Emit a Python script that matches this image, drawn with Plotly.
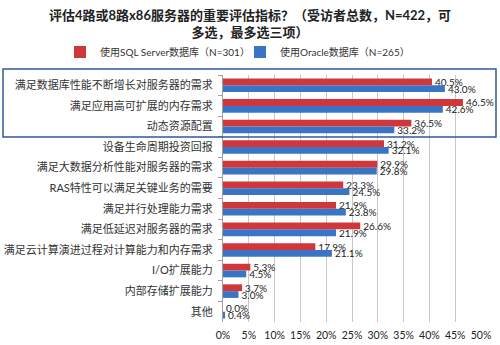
import plotly.graph_objects as go

categories = [
    "满足数据库性能不断增长对服务器的需求",
    "满足应用高可扩展的内存需求",
    "动态资源配置",
    "设备生命周期投资回报",
    "满足大数据分析性能对服务器的需求",
    "RAS特性可以满足关键业务的需要",
    "满足并行处理能力需求",
    "满足低延迟对服务器的需求",
    "满足云计算演进过程对计算能力和内存需求",
    "I/O扩展能力",
    "内部存储扩展能力",
    "其他",
]
sql_server = [40.5, 46.5, 36.5, 31.2, 29.9, 23.3, 21.9, 26.6, 17.9, 5.3, 3.7, 0.0]
oracle = [43.0, 42.6, 33.2, 32.1, 29.8, 24.5, 23.8, 21.9, 21.1, 4.5, 3.0, 0.4]
series_names = ["使用SQL Server数据库（N=301）", "使用Oracle数据库（N=265）"]
tick_vals = [0, 5, 10, 15, 20, 25, 30, 35, 40, 45, 50]
tick_text = [f"{v}%" for v in tick_vals]
title_text = "评估4路或8路x86服务器的重要评估指标？（受访者总数，N=422，可<br>多选，最多选三项）"

FONT = "Lato, 'Noto Sans CJK SC', sans-serif"

T, B = 75, 23
PH = 345 - T - B
def py(pix):
    return (345 - B - pix) / PH
def px(pix):
    return (pix - 223) / 258

fig = go.Figure()
for name, vals, color in [
    (series_names[0], sql_server, "#D0363A"),
    (series_names[1], oracle, "#3A74C4"),
]:
    fig.add_trace(go.Bar(
        y=categories, x=vals, name=name, orientation="h",
        marker=dict(color=color, line=dict(width=0)),
        text=[f"{v:.1f}%" for v in vals],
        textposition="outside", constraintext="none", cliponaxis=False,
        textfont=dict(family=FONT, size=10, color="#222"),
    ))

fig.update_layout(
    width=500, height=345,
    margin=dict(l=223, r=19, t=T, b=B, autoexpand=False),
    paper_bgcolor="white", plot_bgcolor="white",
    barmode="group", bargap=0.34, bargroupgap=0,
    legend=dict(
        orientation="h", x=px(60), xanchor="left", y=py(52), yanchor="middle",
        font=dict(family=FONT, size=10, color="#333"),
        itemwidth=30, traceorder="normal", entrywidth=135,
    ),
    font=dict(family=FONT),
    showlegend=True,
)
fig.add_annotation(
    text="<b>" + title_text + "</b>", xref="paper", yref="paper",
    x=px(250), y=py(23), xanchor="center", yanchor="middle",
    showarrow=False, align="center",
    font=dict(family=FONT, size=13, color="#222"),
)
fig.update_xaxes(
    range=[0, 50], tickvals=tick_vals, ticktext=tick_text,
    showgrid=True, gridcolor="#C8C8C8", gridwidth=1,
    zeroline=False, showline=False, ticks="", ticklabelstandoff=5,
    automargin=False,
    tickfont=dict(family=FONT, size=10.5, color="#222"),
)
fig.update_yaxes(
    autorange="reversed", showline=True, linecolor="#A0A0A0", linewidth=1,
    ticks="outside", tickson="boundaries", ticklen=4, tickcolor="#A0A0A0",
    ticklabelstandoff=7, automargin=False,
    tickfont=dict(family=FONT, size=11, color="#333"),
)
fig.add_shape(
    type="rect", xref="paper", yref="paper",
    x0=px(3), x1=px(496), y0=py(137), y1=py(69),
    line=dict(color="#2E5A9A", width=1.5), fillcolor="rgba(0,0,0,0)", layer="above",
)
fig.write_html("out.html")
